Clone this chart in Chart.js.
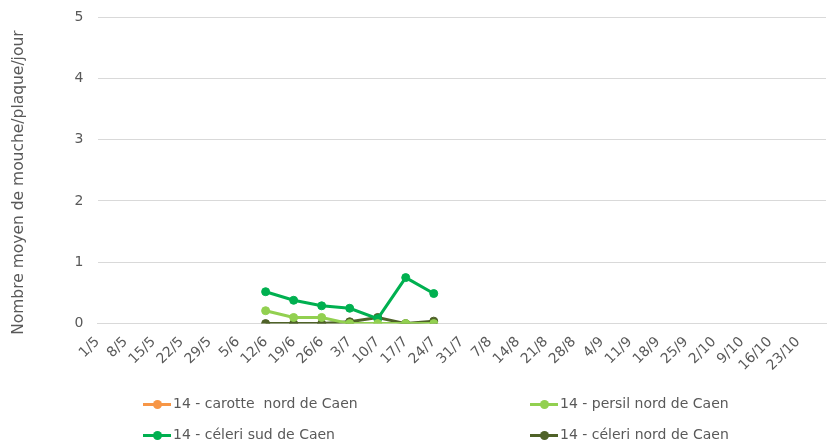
<!DOCTYPE html>
<html lang="fr">
<head>
    <meta charset="UTF-8">
    <title>Mouche - plaques</title>
    <script src="https://cdn.jsdelivr.net/npm/chart.js"></script>
    <style>
        body { margin: 0; background: #fff; font-family: "DejaVu Sans", sans-serif; }
        .wrap { position: relative; width: 835px; height: 444px; }
        #chart { position: absolute; left: 0; top: 0; }
        .legend { position: absolute; font-size: 14px; color: #595959; white-space: pre; }
        .legend .sw { display: inline-block; position: relative; width: 28px; height: 3px; vertical-align: middle; margin-right: 2px; }
        .legend .sw i { position: absolute; left: 10px; top: -3px; width: 9px; height: 9px; border-radius: 50%; }
    </style>
</head>
<body>
<div class="wrap">
    <canvas id="chart" width="835" height="444"></canvas>
    <div id="legend"></div>
</div>
<script>
    // semaines (dernière catégorie sans libellé)
    const weeks = ['1/5', '8/5', '15/5', '22/5', '29/5', '5/6', '12/6', '19/6', '26/6', '3/7', '10/7', '17/7', '24/7',
        '31/7', '7/8', '14/8', '21/8', '28/8', '4/9', '11/9', '18/9', '25/9', '2/10', '9/10', '16/10', '23/10', ''];

    const carotteNord = [null, null, null, null, null, null, null, null, null, null, null, null, null,
        null, null, null, null, null, null, null, null, null, null, null, null, null, null];
    const persilNord = [null, null, null, null, null, null, 0.21, 0.1, 0.1, 0, 0, 0, 0,
        null, null, null, null, null, null, null, null, null, null, null, null, null, null];
    const celeriSud = [null, null, null, null, null, null, 0.52, 0.38, 0.29, 0.25, 0.08, 0.75, 0.49,
        null, null, null, null, null, null, null, null, null, null, null, null, null, null];
    const celeriNord = [null, null, null, null, null, null, 0, 0, 0, 0.03, 0.1, 0, 0.04,
        null, null, null, null, null, null, null, null, null, null, null, null, null, null];

    const seriesNames = ['14 - carotte  nord de Caen', '14 - persil nord de Caen', '14 - céleri sud de Caen', '14 - céleri nord de Caen'];
    const seriesColors = ['#F79646', '#92D050', '#00B050', '#4F6228'];
    const seriesData = [carotteNord, persilNord, celeriSud, celeriNord];

    const ctx = document.getElementById('chart').getContext('2d');
    const chart = new Chart(ctx, {
        type: 'line',
        data: {
            labels: weeks,
            datasets: seriesData.map((d, i) => ({
                label: seriesNames[i],
                data: d,
                borderColor: seriesColors[i],
                backgroundColor: seriesColors[i],
                borderWidth: 3,
                pointRadius: 4,
                pointBorderWidth: 1,
                pointHoverRadius: 4,
                tension: 0,
                fill: false
            }))
        },
        options: {
            responsive: false,
            animation: false,
            layout: { padding: { top: 17, right: 9, left: 6, bottom: 68 } },
            plugins: {
                legend: { display: false },
                tooltip: { enabled: false }
            },
            scales: {
                x: {
                    offset: false,
                    grid: { display: false },
                    border: { color: '#d9d9d9' },
                    afterFit: (s) => { s.paddingLeft = 0; s.paddingRight = 0; },
                    ticks: {
                        autoSkip: false,
                        minRotation: 45,
                        maxRotation: 45,
                        color: '#595959',
                        font: { family: 'DejaVu Sans', size: 14 },
                        padding: 2
                    }
                },
                y: {
                    min: 0,
                    max: 5,
                    afterFit: (s) => { s.paddingTop = 0; s.paddingBottom = 0; },
                    ticks: {
                        stepSize: 1,
                        color: '#595959',
                        font: { family: 'DejaVu Sans', size: 14 },
                        padding: 14
                    },
                    grid: { color: '#d9d9d9', drawTicks: false },
                    border: { display: false },
                    title: {
                        display: true,
                        // espaces en fin de texte : décale le titre vers le bas comme dans Excel
                        text: 'Nombre moyen de mouche/plaque/jour     ',
                        color: '#595959',
                        font: { family: 'DejaVu Sans', size: 15.5 },
                        padding: { bottom: 32 }
                    }
                }
            }
        }
    });

    // légende en deux colonnes
    const legendPos = [[143, 395], [530, 395], [143, 426], [530, 426]];
    const legendEl = document.getElementById('legend');
    seriesNames.forEach((name, i) => {
        const item = document.createElement('div');
        item.className = 'legend';
        item.style.left = legendPos[i][0] + 'px';
        item.style.top = legendPos[i][1] + 'px';
        item.innerHTML = '<span class="sw" style="background:' + seriesColors[i] + '"><i style="background:' + seriesColors[i] + '"></i></span>' + name;
        legendEl.appendChild(item);
    });
</script>
</body>
</html>
